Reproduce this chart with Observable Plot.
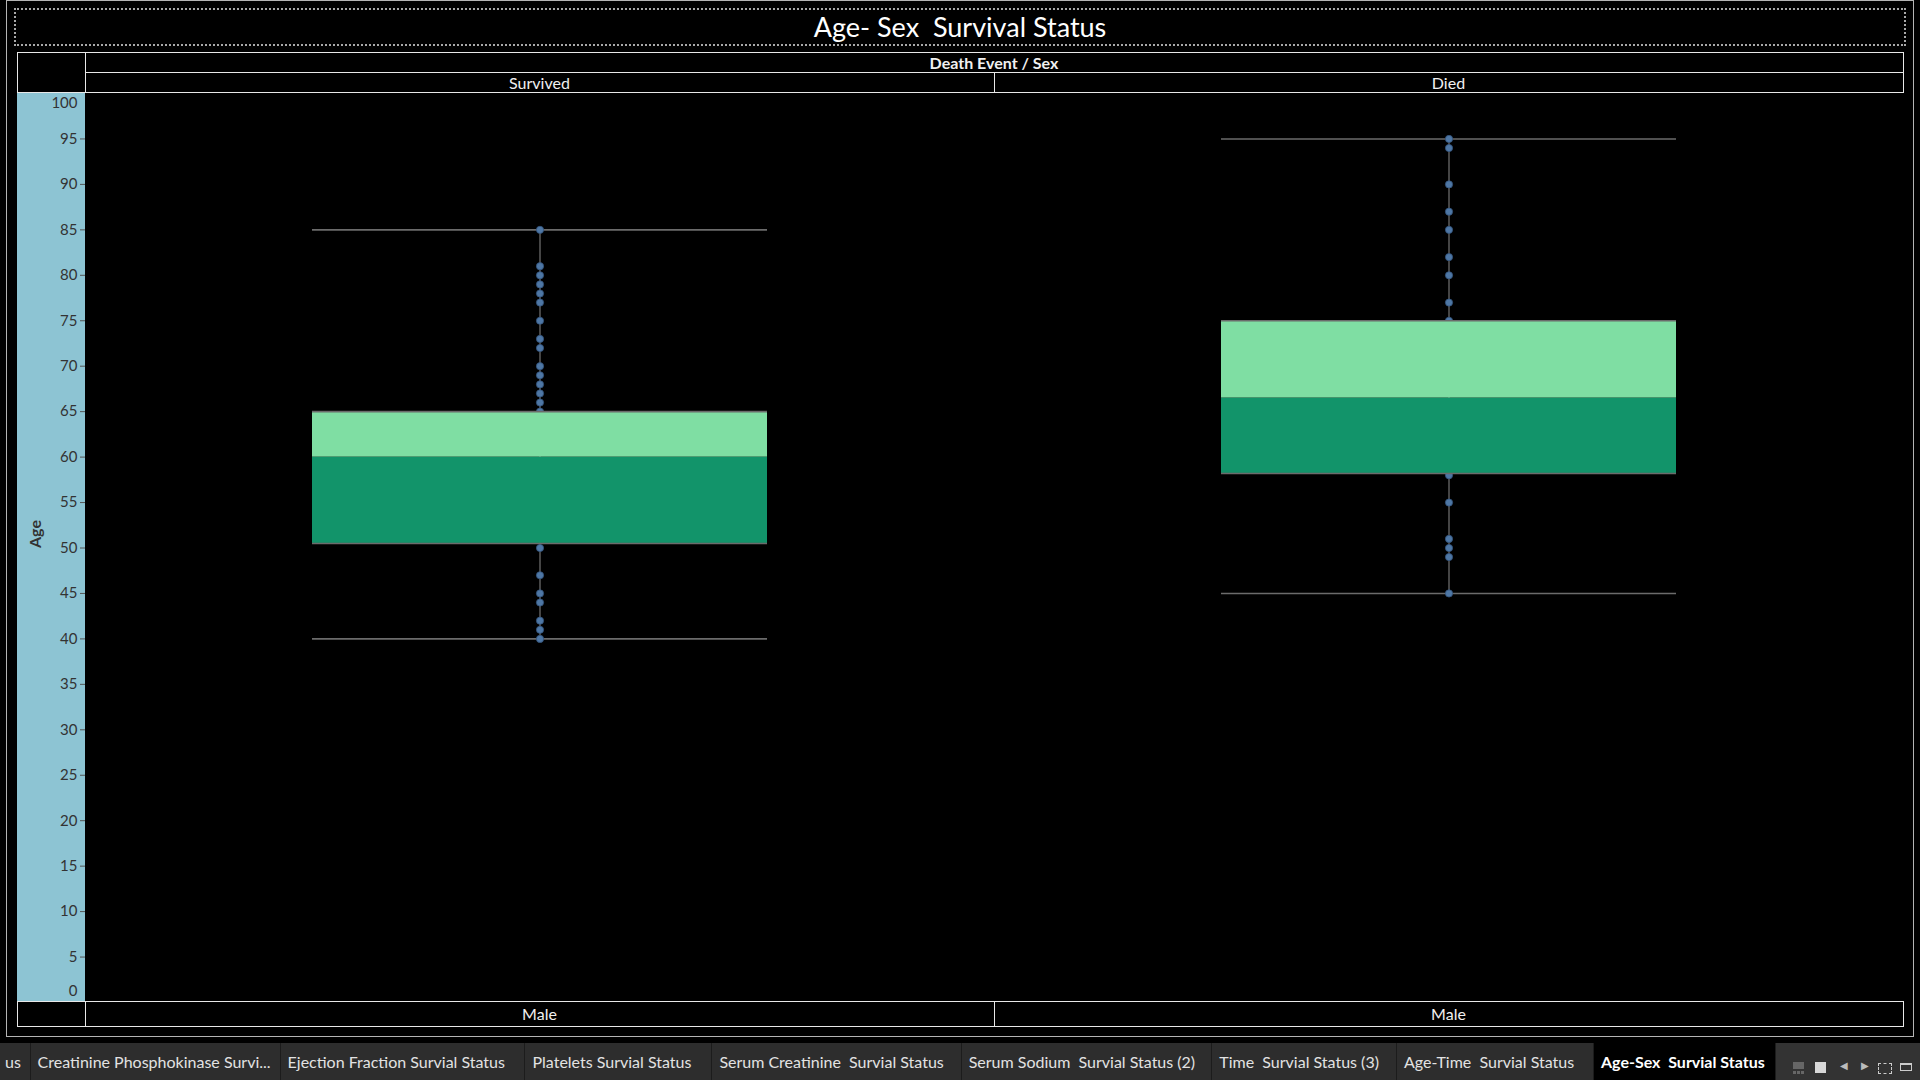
<!DOCTYPE html>
<html>
<head>
<meta charset="utf-8">
<script src="https://cdn.jsdelivr.net/npm/d3@7"></script>
<script src="https://cdn.jsdelivr.net/npm/@observablehq/plot@0.6"></script>
<style>
  html, body { margin: 0; padding: 0; background: #000; width: 1920px; height: 1080px; overflow: hidden;
    font-family: Lato, "Noto Sans", sans-serif; }
  .abs { position: absolute; box-sizing: border-box; }
  .hdr { color: #f0f0f0; font-size: 16px; text-align: center; white-space: pre; }
  .tab { position: absolute; top: 1043px; height: 37px; line-height: 37px; color: #e2e2e2; font-size: 16px;
    white-space: pre; padding-left: 7px; box-sizing: border-box; border-right: 1px solid #1c1c1c; overflow: hidden; }
</style>
</head>
<body>
<!-- outer dashboard frame -->
<div class="abs" style="left:6px;top:0px;width:1908px;height:1037px;border:1px solid #b4b4b4;"></div>
<!-- title -->
<div class="abs" style="left:14px;top:8px;width:1892px;height:38px;border:2px dotted #a8a8a8;"></div>
<div class="abs" id="title" style="left:14px;top:8px;width:1892px;height:38px;line-height:38px;text-align:center;color:#fff;font-size:27px;white-space:pre;"></div>

<!-- header table -->
<div class="abs" style="left:17px;top:52px;width:1887px;height:41px;border:1.5px solid #e8e8e8;"></div>
<div class="abs" style="left:84.5px;top:52px;width:1.5px;height:41px;background:#e8e8e8;"></div>
<div class="abs" style="left:85px;top:71.5px;width:1818px;height:1.5px;background:#e8e8e8;"></div>
<div class="abs" style="left:993.5px;top:72px;width:1.5px;height:20px;background:#e8e8e8;"></div>
<div class="abs hdr" id="hdrTop" style="left:85px;top:52px;width:1818px;height:20px;line-height:21px;font-weight:bold;"></div>
<div class="abs hdr" id="hdrL" style="left:85px;top:72px;width:909px;height:20px;line-height:21px;"></div>
<div class="abs hdr" id="hdrR" style="left:994px;top:72px;width:909px;height:20px;line-height:21px;"></div>

<!-- axis band -->
<div class="abs" style="left:17px;top:93px;width:68px;height:909px;background:#8dc4d3;"></div>
<!-- plot -->
<div class="abs" id="chart" style="left:17px;top:93px;"></div>

<!-- footer table -->
<div class="abs" style="left:17px;top:1001px;width:1887px;height:26px;border:1.5px solid #e8e8e8;"></div>
<div class="abs" style="left:84.5px;top:1001px;width:1.5px;height:26px;background:#e8e8e8;"></div>
<div class="abs" style="left:993.5px;top:1001px;width:1.5px;height:26px;background:#e8e8e8;"></div>
<div class="abs hdr" id="ftL" style="left:85px;top:1002px;width:909px;height:24px;line-height:24px;"></div>
<div class="abs hdr" id="ftR" style="left:994px;top:1002px;width:909px;height:24px;line-height:24px;"></div>

<!-- tab bar -->
<div class="abs" style="left:0;top:1043px;width:1920px;height:37px;background:#2d2d2d;"></div>
<div id="tabs"></div>
<div class="abs" style="left:1775px;top:1043px;width:145px;height:37px;background:#333;border-left:1px solid #1c1c1c;"></div>
<!-- icons -->
<div class="abs" style="left:1793px;top:1062px;width:11px;height:7px;background:#666;"></div>
<div class="abs" style="left:1793px;top:1071px;width:3px;height:3px;background:#666;"></div>
<div class="abs" style="left:1797px;top:1071px;width:3px;height:3px;background:#666;"></div>
<div class="abs" style="left:1801px;top:1071px;width:3px;height:3px;background:#666;"></div>
<div class="abs" style="left:1815px;top:1062px;width:11px;height:11px;background:#d8d8d8;"></div>
<div class="abs" style="left:1840px;top:1059px;color:#bbb;font-size:10px;">&#9664;</div>
<div class="abs" style="left:1861px;top:1059px;color:#bbb;font-size:10px;">&#9654;</div>
<div class="abs" style="left:1878px;top:1063px;width:14px;height:11px;border:1.5px dashed #ccc;"></div>
<div class="abs" style="left:1900px;top:1063px;width:12px;height:8px;border:1.5px solid #ccc;border-top-width:2.5px;"></div>

<script>
// ---- data ----
const titleText = "Age- Sex  Survival Status";
const headerTitle = "Death Event / Sex";
const groups = ["Survived", "Died"];
const sexes = ["Male", "Male"];
const q1 = [50.5, 58.2];
const medians = [60, 66.5];
const q3 = [65, 75];
const whiskerLow = [40, 45];
const whiskerHigh = [85, 95];
const survivedAges = [85, 81, 80, 79, 78, 77, 75, 73, 72, 70, 69, 68, 67, 66, 65, 50, 47, 45, 44, 42, 41, 40];
const diedAges = [95, 94, 90, 87, 85, 82, 80, 77, 75, 58, 55, 51, 50, 49, 45];
const yTicks = [5, 10, 15, 20, 25, 30, 35, 40, 45, 50, 55, 60, 65, 70, 75, 80, 85, 90, 95];
const yEndTicks = [0, 100];
const yLabel = "Age";
const tabNames = ["us", "Creatinine Phosphokinase Survi...", "Ejection Fraction Survial Status", "Platelets Survial Status",
  "Serum Creatinine  Survial Status", "Serum Sodium  Survial Status (2)", "Time  Survial Status (3)",
  "Age-Time  Survial Status", "Age-Sex  Survial Status"];
const activeTab = "Age-Sex  Survial Status";

// ---- text ----
document.getElementById("title").textContent = titleText;
document.getElementById("hdrTop").textContent = headerTitle;
document.getElementById("hdrL").textContent = groups[0];
document.getElementById("hdrR").textContent = groups[1];
document.getElementById("ftL").textContent = sexes[0];
document.getElementById("ftR").textContent = sexes[1];

// tabs (layout only)
const tabEdges = [0, 30.6, 280.6, 525.5, 712.4, 961.7, 1212.3, 1397, 1594, 1775.6];
const tabsEl = document.getElementById("tabs");
tabNames.forEach((name, i) => {
  const d = document.createElement("div");
  d.className = "tab";
  d.style.left = tabEdges[i] + "px";
  d.style.width = (tabEdges[i + 1] - tabEdges[i]) + "px";
  if (i === 0) { d.style.paddingLeft = "5px"; }
  if (name === activeTab) { d.style.background = "#000"; d.style.fontWeight = "bold"; d.style.color = "#fff"; }
  d.textContent = name;
  tabsEl.appendChild(d);
});

// ---- chart ----
const boxes = groups.map((g, i) => ({group: g, q1: q1[i], median: medians[i], q3: q3[i], lo: whiskerLow[i], hi: whiskerHigh[i]}));
const points = [
  ...survivedAges.map(a => ({group: groups[0], age: a})),
  ...diedAges.map(a => ({group: groups[1], age: a}))
];
const gray = "#6b6b6b";

const chart = Plot.plot({
  width: 1886,
  height: 909,
  marginLeft: 68,
  marginRight: 0,
  marginTop: 0,
  marginBottom: 0,
  style: {background: "transparent", color: "#333", fontFamily: "Lato, 'Noto Sans', sans-serif", fontSize: "15px"},
  x: {type: "band", domain: groups, paddingInner: 0.5, paddingOuter: 0.25, axis: null},
  y: {domain: [0, 100], axis: null},
  marks: [
    Plot.ruleX(boxes, {x: "group", y1: "lo", y2: "hi", stroke: gray, strokeWidth: 1.3}),
    Plot.tickY(boxes, {x: "group", y: "hi", stroke: gray, strokeWidth: 1.6}),
    Plot.tickY(boxes, {x: "group", y: "lo", stroke: gray, strokeWidth: 1.6}),
    Plot.dot(points, {x: "group", y: "age", r: 3.6, fill: "#4e77a5", stroke: "#34547c", strokeWidth: 0.8}),
    Plot.barY(boxes, {x: "group", y1: "q1", y2: "median", fill: "#12946a"}),
    Plot.barY(boxes, {x: "group", y1: "median", y2: "q3", fill: "#7fdea3"}),
    Plot.tickY(boxes, {x: "group", y: "q3", stroke: gray, strokeWidth: 1.6}),
    Plot.tickY(boxes, {x: "group", y: "q1", stroke: gray, strokeWidth: 1.6}),
    Plot.axisY({ticks: yTicks, tickSize: 5, tickPadding: 3, label: null, stroke: "#555", fill: "#333"}),
    Plot.axisY({ticks: [yEndTicks[1]], tickSize: 0, tickPadding: 8, dy: 10, label: null, fill: "#333"}),
    Plot.axisY({ticks: [yEndTicks[0]], tickSize: 0, tickPadding: 8, dy: -11, label: null, fill: "#333"}),
    Plot.text([yLabel], {text: d => d, frameAnchor: "left", dx: -50, rotate: -90, fontWeight: "bold", fontSize: 16, fill: "#333"})
  ]
});
document.getElementById("chart").appendChild(chart);
</script>
</body>
</html>
